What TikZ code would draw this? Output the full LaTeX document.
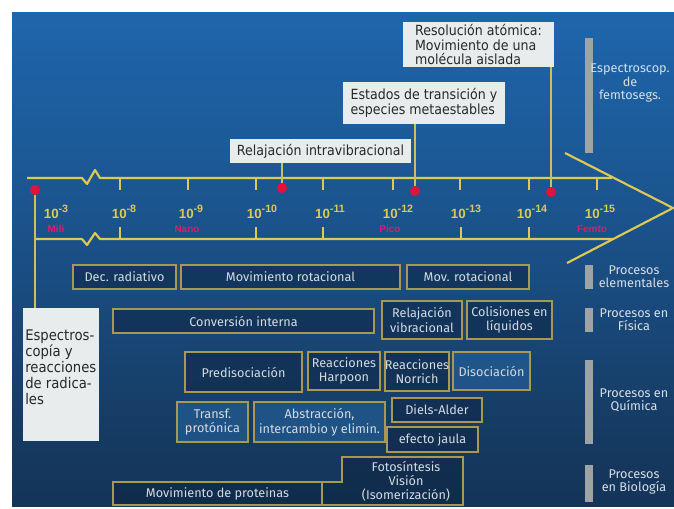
\documentclass[tikz,border=0pt]{standalone}
\usepackage{fontspec}
\setmainfont{Fira Sans}
\newfontfamily\condfont[FakeStretch=0.9]{DejaVu Sans}
\newfontfamily\numfont{Liberation Sans}
\usetikzlibrary{fit}
\definecolor{bgtop}{RGB}{33,112,184}
\definecolor{bgtopb}{RGB}{30,102,172}
\definecolor{bgmid}{RGB}{27,84,142}
\definecolor{bgmidb}{RGB}{21,56,94}
\definecolor{bgbot}{RGB}{16,36,62}
\definecolor{tlyellow}{RGB}{222,202,82}
\definecolor{connc}{RGB}{205,190,95}
\definecolor{reddot}{RGB}{228,18,58}
\definecolor{pinkc}{RGB}{215,30,110}
\definecolor{bborder}{RGB}{168,152,82}
\definecolor{bdark}{RGB}{14,38,68}
\definecolor{blight}{RGB}{38,98,155}
\definecolor{btext}{RGB}{212,218,224}
\definecolor{wfill}{RGB}{232,236,236}
\definecolor{wtext}{RGB}{40,40,40}
\definecolor{gbarc}{RGB}{158,164,166}
\definecolor{rtext}{RGB}{214,222,230}
\pgfdeclareverticalshading{bgshade}{100bp}{color(0bp)=(bgbot); color(30bp)=(bgmidb); color(55bp)=(bgmid); color(75bp)=(bgtopb); color(100bp)=(bgtop)}
\newcommand\tpow[1]{10\raisebox{0.45em}{\fontsize{8}{8}\selectfont#1}}
% box drawn by fit, text as a separate centred node
\newcommand\fitbox[5]{\node[#1, fit={#2}] (#3) {};\node[#4] (#3t) at (#3.center) {#5};}
\tikzset{
  tl/.style={draw=tlyellow, line width=1.6pt, line join=round},
  tickmark/.style={draw=tlyellow, line width=1.1pt},
  conn/.style={draw=connc, line width=0.9pt},
  wbox/.style={fill=wfill, draw=none, inner sep=0pt},
  wtxt/.style={inner sep=0pt, text=wtext, font=\condfont\fontsize{10.5}{11}\selectfont, align=left},
  pbox/.style={draw=bborder, line width=0.9pt, fill=bdark, fill opacity=0.55, inner sep=0pt},
  lbox/.style={pbox, fill=blight, fill opacity=0.6},
  ptext/.style={inner sep=0pt, text=btext, font=\fontsize{9.5}{11}\selectfont, align=center},
  gbar/.style={fill=gbarc, draw=none},
  rlab/.style={text=rtext, font=\fontsize{9.5}{10}\selectfont, align=center},
  num/.style={text=tlyellow, font=\numfont\bfseries\fontsize{10}{11}\selectfont, inner sep=0pt},
  unitlab/.style={text=pinkc, font=\numfont\bfseries\fontsize{7.5}{8}\selectfont, inner sep=0pt},
  reddotst/.style={circle, fill=reddot, draw=none, inner sep=0pt, minimum size=7.5pt}
}
\begin{document}
\begin{tikzpicture}[x=0.75pt,y=-0.75pt]
\useasboundingbox (0,0) rectangle (674,508);
\fill[white] (0,0) rectangle (674,508);
\shade[shading=bgshade] (12,12) rectangle (674,506);

% timeline
\draw[tl] (27,178) -- (82,178) -- (87,184) -- (95,170) -- (100,178) -- (612,178);
\draw[tl] (35,239) -- (82,239) -- (87,245) -- (95,233) -- (100,239) -- (613,239);
\draw[tl] (565,153) -- (673,208) -- (567,263);
\foreach \x in {120,188,256,323,393,460,529,597} \draw[tickmark] (\x,178) -- (\x,190);
\foreach \x in {120,256,323,461,529} \draw[tickmark] (\x,239) -- (\x,227);

% exponent labels
\node[num] (e3) at (56,212) {\tpow{-3}};
\node[num] (e8) at (124,212) {\tpow{-8}};
\node[num] (e9) at (191,212) {\tpow{-9}};
\node[num] (e10) at (262,212) {\tpow{-10}};
\node[num] (e11) at (330,212) {\tpow{-11}};
\node[num] (e12) at (398,212) {\tpow{-12}};
\node[num] (e13) at (466,212) {\tpow{-13}};
\node[num] (e14) at (532,212) {\tpow{-14}};
\node[num] (e15) at (600,212) {\tpow{-15}};
\node[unitlab] (u1) at (56,229) {Mili};
\node[unitlab] (u2) at (187,229) {Nano};
\node[unitlab] (u3) at (390,229) {Pico};
\node[unitlab] (u4) at (592,229) {Femto};

% red dots
\node[reddotst] (d1) at (35,190) {};
\node[reddotst] (d2) at (282,188) {};
\node[reddotst] (d3) at (415,191) {};
\node[reddotst] (d4) at (551,192) {};

% white boxes
\fitbox{wbox}{(403,22)(554,67)}{resol}{wtxt}{Resolución atómica:\\Movimiento de una\\molécula aislada}
\fitbox{wbox}{(343,82)(505,124)}{estados}{wtxt}{Estados de transición y\\especies metaestables}
\fitbox{wbox}{(230,139)(411,163)}{relint}{wtxt}{Relajación intravibracional}
\node[wbox, fit={(23,308)(99,441)}] (espbox) {};
\node[wtxt, anchor=north west, font=\condfont\fontsize{11}{12}\selectfont] (esptext) at (25,330) {Espectros-\\copía y\\reacciones\\de radica-\\les};

% connectors
\draw[conn] (relint.south -| d2) -- (d2);
\draw[conn] (estados.south -| d3) -- (d3);
\draw[conn] (resol.south -| d4) -- (d4);
\draw[conn] (d1) -- (espbox.north -| d1);

% process boxes
\fitbox{pbox}{(73,265)(176,289)}{decrad}{ptext}{Dec. radiativo}
\fitbox{pbox}{(181,265)(400,289)}{movrot}{ptext}{Movimiento rotacional}
\fitbox{pbox}{(407,265)(529,289)}{movrotb}{ptext}{Mov. rotacional}
\fitbox{pbox}{(113,309)(374,333)}{conv}{ptext}{Conversión interna}
\fitbox{pbox}{(382,301)(462,339)}{relvib}{ptext}{Relajación\\vibracional}
\fitbox{pbox}{(467,301)(552,339)}{colis}{ptext}{Colisiones en\\líquidos}
\fitbox{pbox}{(185,352)(302,392)}{predis}{ptext}{Predisociación}
\fitbox{pbox}{(308,352)(380,390)}{harp}{ptext}{Reacciones\\Harpoon}
\fitbox{pbox}{(385,352)(449,391)}{norr}{ptext}{Reacciones\\Norrich}
\fitbox{lbox}{(453,352)(530,390)}{disoc}{ptext}{Disociación}
\fitbox{lbox}{(177,402)(248,442)}{transf}{ptext}{Transf.\\protónica}
\fitbox{lbox}{(254,402)(385,442)}{abstr}{ptext}{Abstracción,\\intercambio y elimin.}
\fitbox{pbox}{(392,398)(482,422)}{diels}{ptext}{Diels-Alder}
\fitbox{pbox}{(387,427)(478,452)}{jaula}{ptext}{efecto jaula}
\fitbox{pbox}{(113,482)(322,505)}{prot}{ptext}{Movimiento de proteinas}
\filldraw[draw=bborder, line width=0.9pt, fill=bdark, fill opacity=0.55] (322,482) -- (342,482) -- (342,457) -- (463,457) -- (463,505) -- (322,505) -- cycle;
\node[ptext, font=\fontsize{9.5}{10.5}\selectfont] (foto) at (406,481) {Fotosíntesis\\Visión\\(Isomerización)};

% right column
\fill[gbar] (585,38) rectangle (593,153);
\fill[gbar] (585,265) rectangle (593,289);
\fill[gbar] (585,308) rectangle (593,332);
\fill[gbar] (585,360) rectangle (593,444);
\fill[gbar] (585,465) rectangle (593,502);
\node[rlab] (lespec) at (630,83) {Espectroscop.\\de\\femtosegs.};
\node[rlab] (lelem) at (634,277) {Procesos\\elementales};
\node[rlab] (lfis) at (634,320) {Procesos en\\Física};
\node[rlab] (lquim) at (634,400) {Procesos en\\Química};
\node[rlab] (lbio) at (634,482) {Procesos\\en Biología};
\end{tikzpicture}
\end{document}
